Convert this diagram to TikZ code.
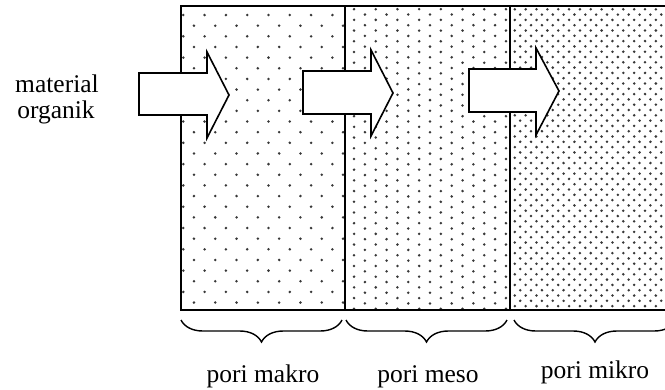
\documentclass[tikz,border=0pt]{standalone}
\usepackage{fontspec}
\setmainfont{Liberation Serif}
\usetikzlibrary{decorations.pathreplacing}

\begin{document}
\begin{tikzpicture}[x=1pt,y=-1pt,
  frame/.style={line width=1.6pt,line cap=rect},
  dot/.style={fill=black!78},
  blockarrow/.style={draw=black,fill=white,line width=1.6pt,line join=miter},
  porebrace/.style={decorate,decoration={brace,mirror,amplitude=22pt},line width=1.4pt},
  lbl/.style={font=\fontsize{25.5}{26}\selectfont,inner sep=0pt,anchor=base}]
\useasboundingbox (0,0) rectangle (665,389);

% macro pores: sparse dots
\begin{scope}
  \clip (181,6) rectangle (345,310);
  \foreach \i in {-1,...,8} \foreach \j in {-1,...,14} {
    \fill[dot] ({183.3+21.3*\i},{15+21.3*\j}) circle (1.4);
    \fill[dot] ({193.95+21.3*\i},{25.65+21.3*\j}) circle (1.4);
  }
\end{scope}

% meso pores: medium dots
\begin{scope}
  \clip (345,6) rectangle (510,310);
  \foreach \i in {-3,...,5} \foreach \j in {-15,...,15} {
    \fill[dot] ({408.3+21.7*\i},{164.3+10.7*\j}) circle (1.4);
    \fill[dot] ({419.15+21.7*\i},{169.65+10.7*\j}) circle (1.4);
  }
\end{scope}

% micro pores: dense dots
\begin{scope}
  \clip (510,6) rectangle (665,310);
  \foreach \i in {-11,...,4} \foreach \j in {-1,...,29} {
    \fill[dot] ({623.3+10.85*\i},{9.3+10.6*\j}) circle (1.4);
    \fill[dot] ({628.7+10.85*\i},{14.6+10.6*\j}) circle (1.4);
  }
\end{scope}

% outline of the soil column and the two dividers
\draw[frame] (672,6) -- (181,6) -- (181,310) -- (672,310);
\draw[frame] (345,6) -- (345,310);
\draw[frame] (510,6) -- (510,310);

% block arrows showing the flow of organic material
\draw[blockarrow] (139,73) -- (207,73) -- (207,52) -- (229,95) -- (207,138) -- (207,115) -- (139,115) -- cycle;
\draw[blockarrow] (303,71) -- (371,71) -- (371,50) -- (393,93) -- (371,136) -- (371,114) -- (303,114) -- cycle;
\draw[blockarrow] (469,69) -- (536,69) -- (536,48) -- (559,91) -- (536,135) -- (536,112) -- (469,112) -- cycle;

% braces under each zone
\coordinate (b1l) at (181,320); \coordinate (b1r) at (342,320);
\coordinate (b2l) at (346,320); \coordinate (b2r) at (507,320);
\coordinate (b3l) at (514,320); \coordinate (b3r) at (676,320);
\draw[porebrace] (b1l) -- (b1r);
\draw[porebrace] (b2l) -- (b2r);
\draw[porebrace] (b3l) -- (b3r);

% labels
\node[lbl] (input) at (57,92) {material};
\node[lbl] (input2) at (56,118) {organik};
\node[lbl] (makro) at (263,382) {pori makro};
\node[lbl] (meso) at (428,382) {pori meso};
\node[lbl] (mikro) at (595,378) {pori mikro};
\end{tikzpicture}
\end{document}
